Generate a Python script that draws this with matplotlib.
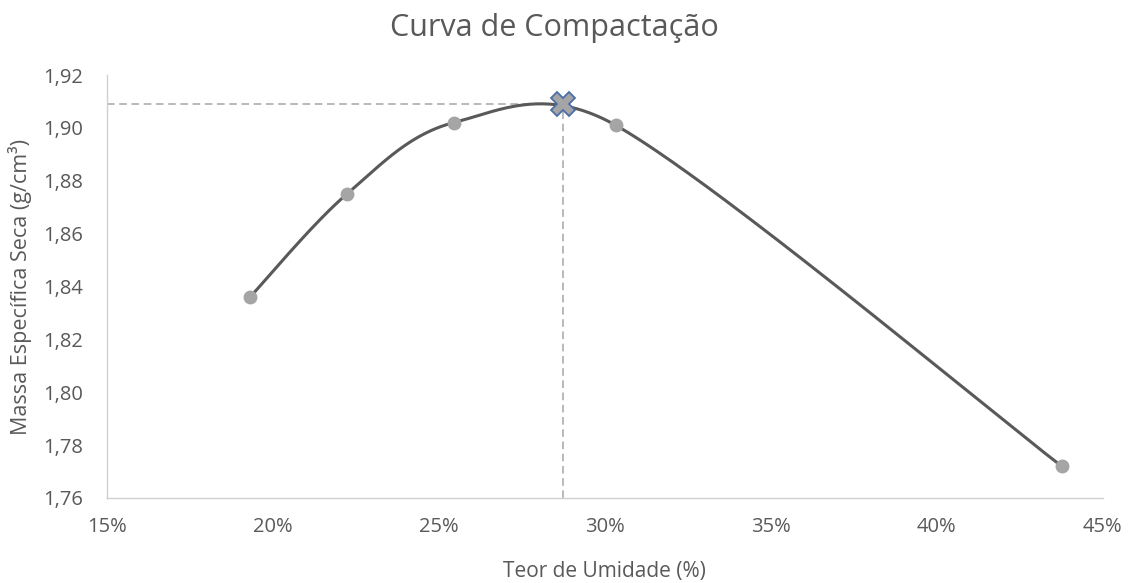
import numpy as np
import matplotlib.pyplot as plt
from matplotlib.ticker import FuncFormatter

# ensaio de compactação: umidade (%) x massa específica seca (g/cm³)
umidade = [19.31, 22.23, 25.45, 30.33, 43.77]
massa_seca = [1.836, 1.875, 1.902, 1.901, 1.772]

# ponto de máximo (umidade ótima / massa específica máxima)
umidade_otima = 28.73
massa_max = 1.909

x_ticks = [15, 20, 25, 30, 35, 40, 45]
y_ticks = [1.76, 1.78, 1.80, 1.82, 1.84, 1.86, 1.88, 1.90, 1.92]


def suavizar(ax, xs, ys, n=80):
    # linha suavizada estilo Excel: bezier em coordenadas de tela,
    # controle a 1/6 limitado a metade do segmento
    p = ax.transData.transform(np.column_stack([xs, ys]))
    k = len(p)
    d = lambda a, b: np.hypot(*(a - b))
    curva = []
    for i in range(k - 1):
        p0 = p[max(i - 1, 0)]
        p1 = p[i]
        p2 = p[i + 1]
        p3 = p[min(i + 2, k - 1)]
        d12 = d(p1, p2)
        d02 = d(p0, p2)
        d13 = d(p1, p3)
        f0 = 1 / 6 if d02 / 6 < d12 / 2 else d12 / d02 / 2
        f3 = 1 / 6 if d13 / 6 < d12 / 2 else d12 / d13 / 2
        c1 = p1 + (p2 - p0) * f0
        c2 = p2 - (p3 - p1) * f3
        t = np.linspace(0, 1, n)[:, None]
        seg = ((1 - t) ** 3) * p1 + 3 * ((1 - t) ** 2) * t * c1 + 3 * (1 - t) * t ** 2 * c2 + t ** 3 * p2
        curva.append(seg if i == 0 else seg[1:])
    curva = ax.transData.inverted().transform(np.vstack(curva))
    return curva[:, 0], curva[:, 1]


plt.rcParams['font.family'] = ['Open Sans', 'DejaVu Sans']

fig = plt.figure(figsize=(11.32, 5.83), dpi=100)
ax = fig.add_axes([0.0945, 0.1458, 0.8795, 0.7255])
ax.set_xlim(15, 45)
ax.set_ylim(1.76, 1.92)

cx, cy = suavizar(ax, umidade, massa_seca)
ax.plot(cx, cy, color='#595959', lw=2.2, zorder=3)
ax.plot(umidade, massa_seca, 'o', color='#A5A5A5', ms=9, mec='#A5A5A5', zorder=4)

# linhas tracejadas até o ponto ótimo
ax.plot([15, umidade_otima], [massa_max, massa_max], ls=(0, (5, 3)), color='#A6A6A6', lw=1.1, zorder=2)
ax.plot([umidade_otima, umidade_otima], [1.76, massa_max], ls=(0, (5, 3)), color='#A6A6A6', lw=1.1, zorder=2)
ax.plot([umidade_otima], [massa_max], 'X', ms=17, mfc='#A5A5A5', mec='#4A6FA8', mew=1.3, zorder=5)

ax.set_xticks(x_ticks)
ax.set_yticks(y_ticks)
ax.xaxis.set_major_formatter(FuncFormatter(lambda v, p: '%d%%' % v))
ax.yaxis.set_major_formatter(FuncFormatter(lambda v, p: ('%.2f' % v).replace('.', ',')))

for s in ['top', 'right']:
    ax.spines[s].set_visible(False)
for s in ['left', 'bottom']:
    ax.spines[s].set_color('#D0D0D0')
    ax.spines[s].set_linewidth(1.0)
ax.tick_params(length=0, labelsize=14.5, labelcolor='#595959')
ax.tick_params(axis='x', pad=14)
ax.tick_params(axis='y', pad=17)

ax.set_xlabel('Teor de Umidade (%)', fontsize=15, color='#595959', labelpad=17)
ax.set_ylabel('Massa Específica Seca (g/cm³)', fontsize=15.5, color='#595959', labelpad=8)
fig.text(0.49, 0.952, 'Curva de Compactação', ha='center', va='center', fontsize=22, color='#595959')

fig.savefig('out.png', dpi=100)
